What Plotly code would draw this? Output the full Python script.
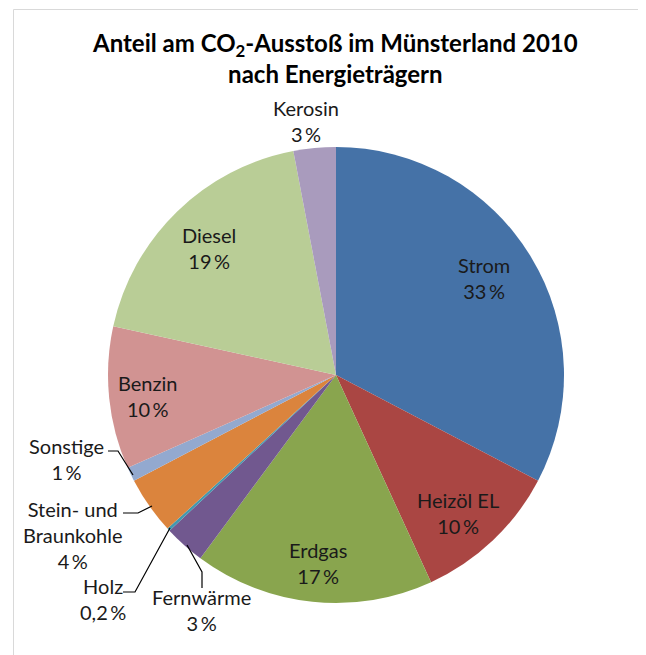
import plotly.graph_objects as go

# ---- data ----
categories = ["Strom", "Heizöl EL", "Erdgas", "Fernwärme", "Holz",
              "Stein- und<br>Braunkohle", "Sonstige", "Benzin", "Diesel", "Kerosin"]
values = [32.7, 10.5, 17.0, 2.9, 0.2, 4.1, 1.0, 10.1, 18.6, 3.0]
pct_labels = ["33 %", "10 %", "17 %", "3 %", "0,2 %", "4 %", "1 %", "10 %", "19 %", "3 %"]

colors = ["#4572A7", "#AA4643", "#89A54E", "#71588F", "#4198AF",
          "#DB843D", "#93A9CF", "#D19392", "#B9CD96", "#A99BBD"]

W, H = 646, 655
OFF = 8  # body margin of the html page
cx, cy, R = 336, 375, 228

def px(x):
    return (x - OFF) / W

def py(y):
    return 1 - (y - OFF) / H

fig = go.Figure(go.Pie(
    labels=categories,
    values=values,
    sort=False,
    direction="clockwise",
    rotation=0,
    marker=dict(colors=colors, line=dict(width=0)),
    textinfo="none",
    hoverinfo="label+percent",
    domain=dict(x=[px(cx - R), px(cx + R)], y=[py(cy + R), py(cy - R)]),
    showlegend=False,
))

font_family = "Lato, 'Open Sans', sans-serif"

# label text placements (pixel centers)
label_pos = {
    "Strom": (484, 278),
    "Heizöl EL": (458, 513),
    "Erdgas": (318, 563),
    "Fernwärme": (201, 610),
    "Holz": (103, 599),
    "Stein- und<br>Braunkohle": (72, 535),
    "Sonstige": (66, 459),
    "Benzin": (148, 396),
    "Diesel": (209, 248),
    "Kerosin": (306, 121),
}

annotations = []
for cat, pct in zip(categories, pct_labels):
    x, y = label_pos[cat]
    annotations.append(dict(
        x=px(x), y=py(y), xref="paper", yref="paper",
        text=f"{cat}<br>{pct.replace(' ', chr(8201))}",
        showarrow=False, xanchor="center", yanchor="middle",
        align="center",
        font=dict(family=font_family, size=20, color="#1a1a1a"),
    ))

annotations.append(dict(
    x=px(335), y=py(58), xref="paper", yref="paper",
    text="<b>Anteil am CO<sub>2</sub>-Ausstoß im Münsterland 2010<br>nach Energieträgern</b>",
    showarrow=False, xanchor="center", yanchor="middle", align="center",
    font=dict(family=font_family, size=24, color="#000000"),
))

def path(points):
    return "M " + " L ".join(f"{px(x)},{py(y)}" for x, y in points)

leader_lines = [
    [(108, 451), (118, 451), (133, 475)],          # Sonstige
    [(123, 513), (138, 513), (152, 506)],          # Stein- und Braunkohle
    [(123, 592), (135, 592), (170, 528)],          # Holz
    [(187, 545), (202, 572), (202, 588)],          # Fernwärme
]

shapes = [dict(type="path", path=path(p), xref="paper", yref="paper",
               line=dict(color="#000000", width=1.2)) for p in leader_lines]

shapes.append(dict(type="rect", xref="paper", yref="paper",
                   x0=px(13.5), y0=py(9.5), x1=1.02, y1=-0.02,
                   line=dict(color="#D9D9D9", width=1)))

fig.update_layout(
    width=W, height=H,
    margin=dict(l=0, r=0, t=0, b=0),
    paper_bgcolor="white",
    plot_bgcolor="white",
    annotations=annotations,
    shapes=shapes,
)

fig.write_html("out.html")
